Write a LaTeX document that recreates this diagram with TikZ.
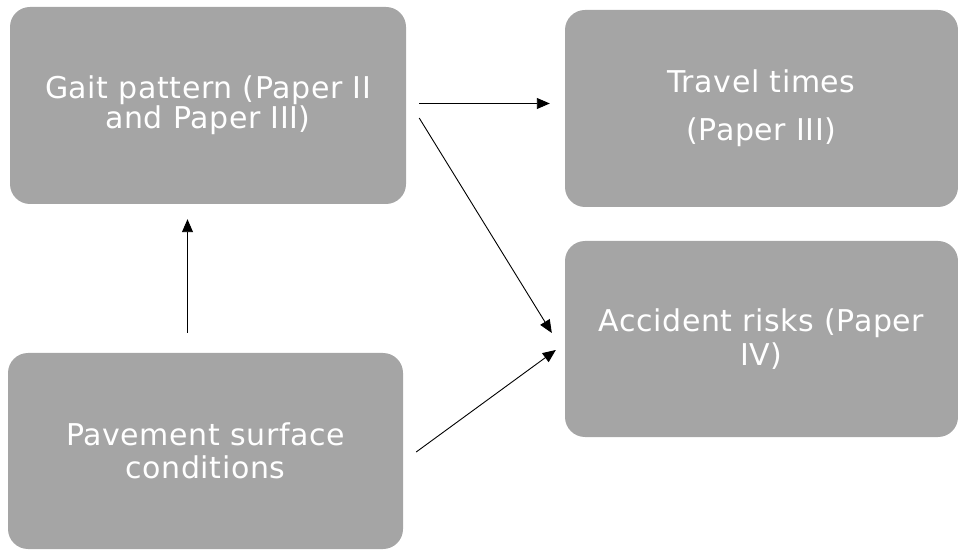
\documentclass[tikz,border=0pt]{standalone}
\usepackage{fontspec}
\setmainfont{DejaVu Sans}[LetterSpace=2]
\usetikzlibrary{arrows.meta}
\definecolor{boxgray}{HTML}{A5A5A5}
\begin{document}
\begin{tikzpicture}[x=1pt,y=1pt,
  box/.style={fill=boxgray, draw=none, rounded corners=20pt, inner sep=0pt,
    text=white, align=center, font=\fontsize{30}{33}\selectfont},
  conn/.style={-{Triangle[length=13pt,width=11pt]}, line width=0.9pt, black}]
\useasboundingbox (0,0) rectangle (958,549);
\node[box, minimum width=396pt, minimum height=197pt] (gait) at (208,443.5)
  {Gait pattern (Paper II\\[-3pt]and Paper III)};
\node[box, minimum width=393pt, minimum height=197pt] (travel) at (761.5,440.5)
  {Travel times\\[15pt](Paper III)};
\node[box, minimum width=393pt, minimum height=196pt] (acc) at (761.5,210)
  {Accident risks (Paper\\[1pt]IV)};
\node[box, minimum width=395pt, minimum height=196pt] (pav) at (205.5,98)
  {Pavement surface\\[0pt]conditions};
\draw[conn] ([xshift=13pt,yshift=2pt]gait.east) -- ([xshift=-15pt,yshift=2pt]gait.east -| travel.west);
\draw[conn] ([xshift=13pt,yshift=-12.5pt]gait.east) -- ([xshift=-13pt,yshift=6pt]acc.west);
\draw[conn] ([xshift=13pt,yshift=-1pt]pav.east) -- ([xshift=-9pt,yshift=-11pt]acc.west);
\draw[conn] ([xshift=-18pt,yshift=20pt]pav.north) -- ([xshift=-20.5pt,yshift=-15pt]gait.south);
\end{tikzpicture}
\end{document}
